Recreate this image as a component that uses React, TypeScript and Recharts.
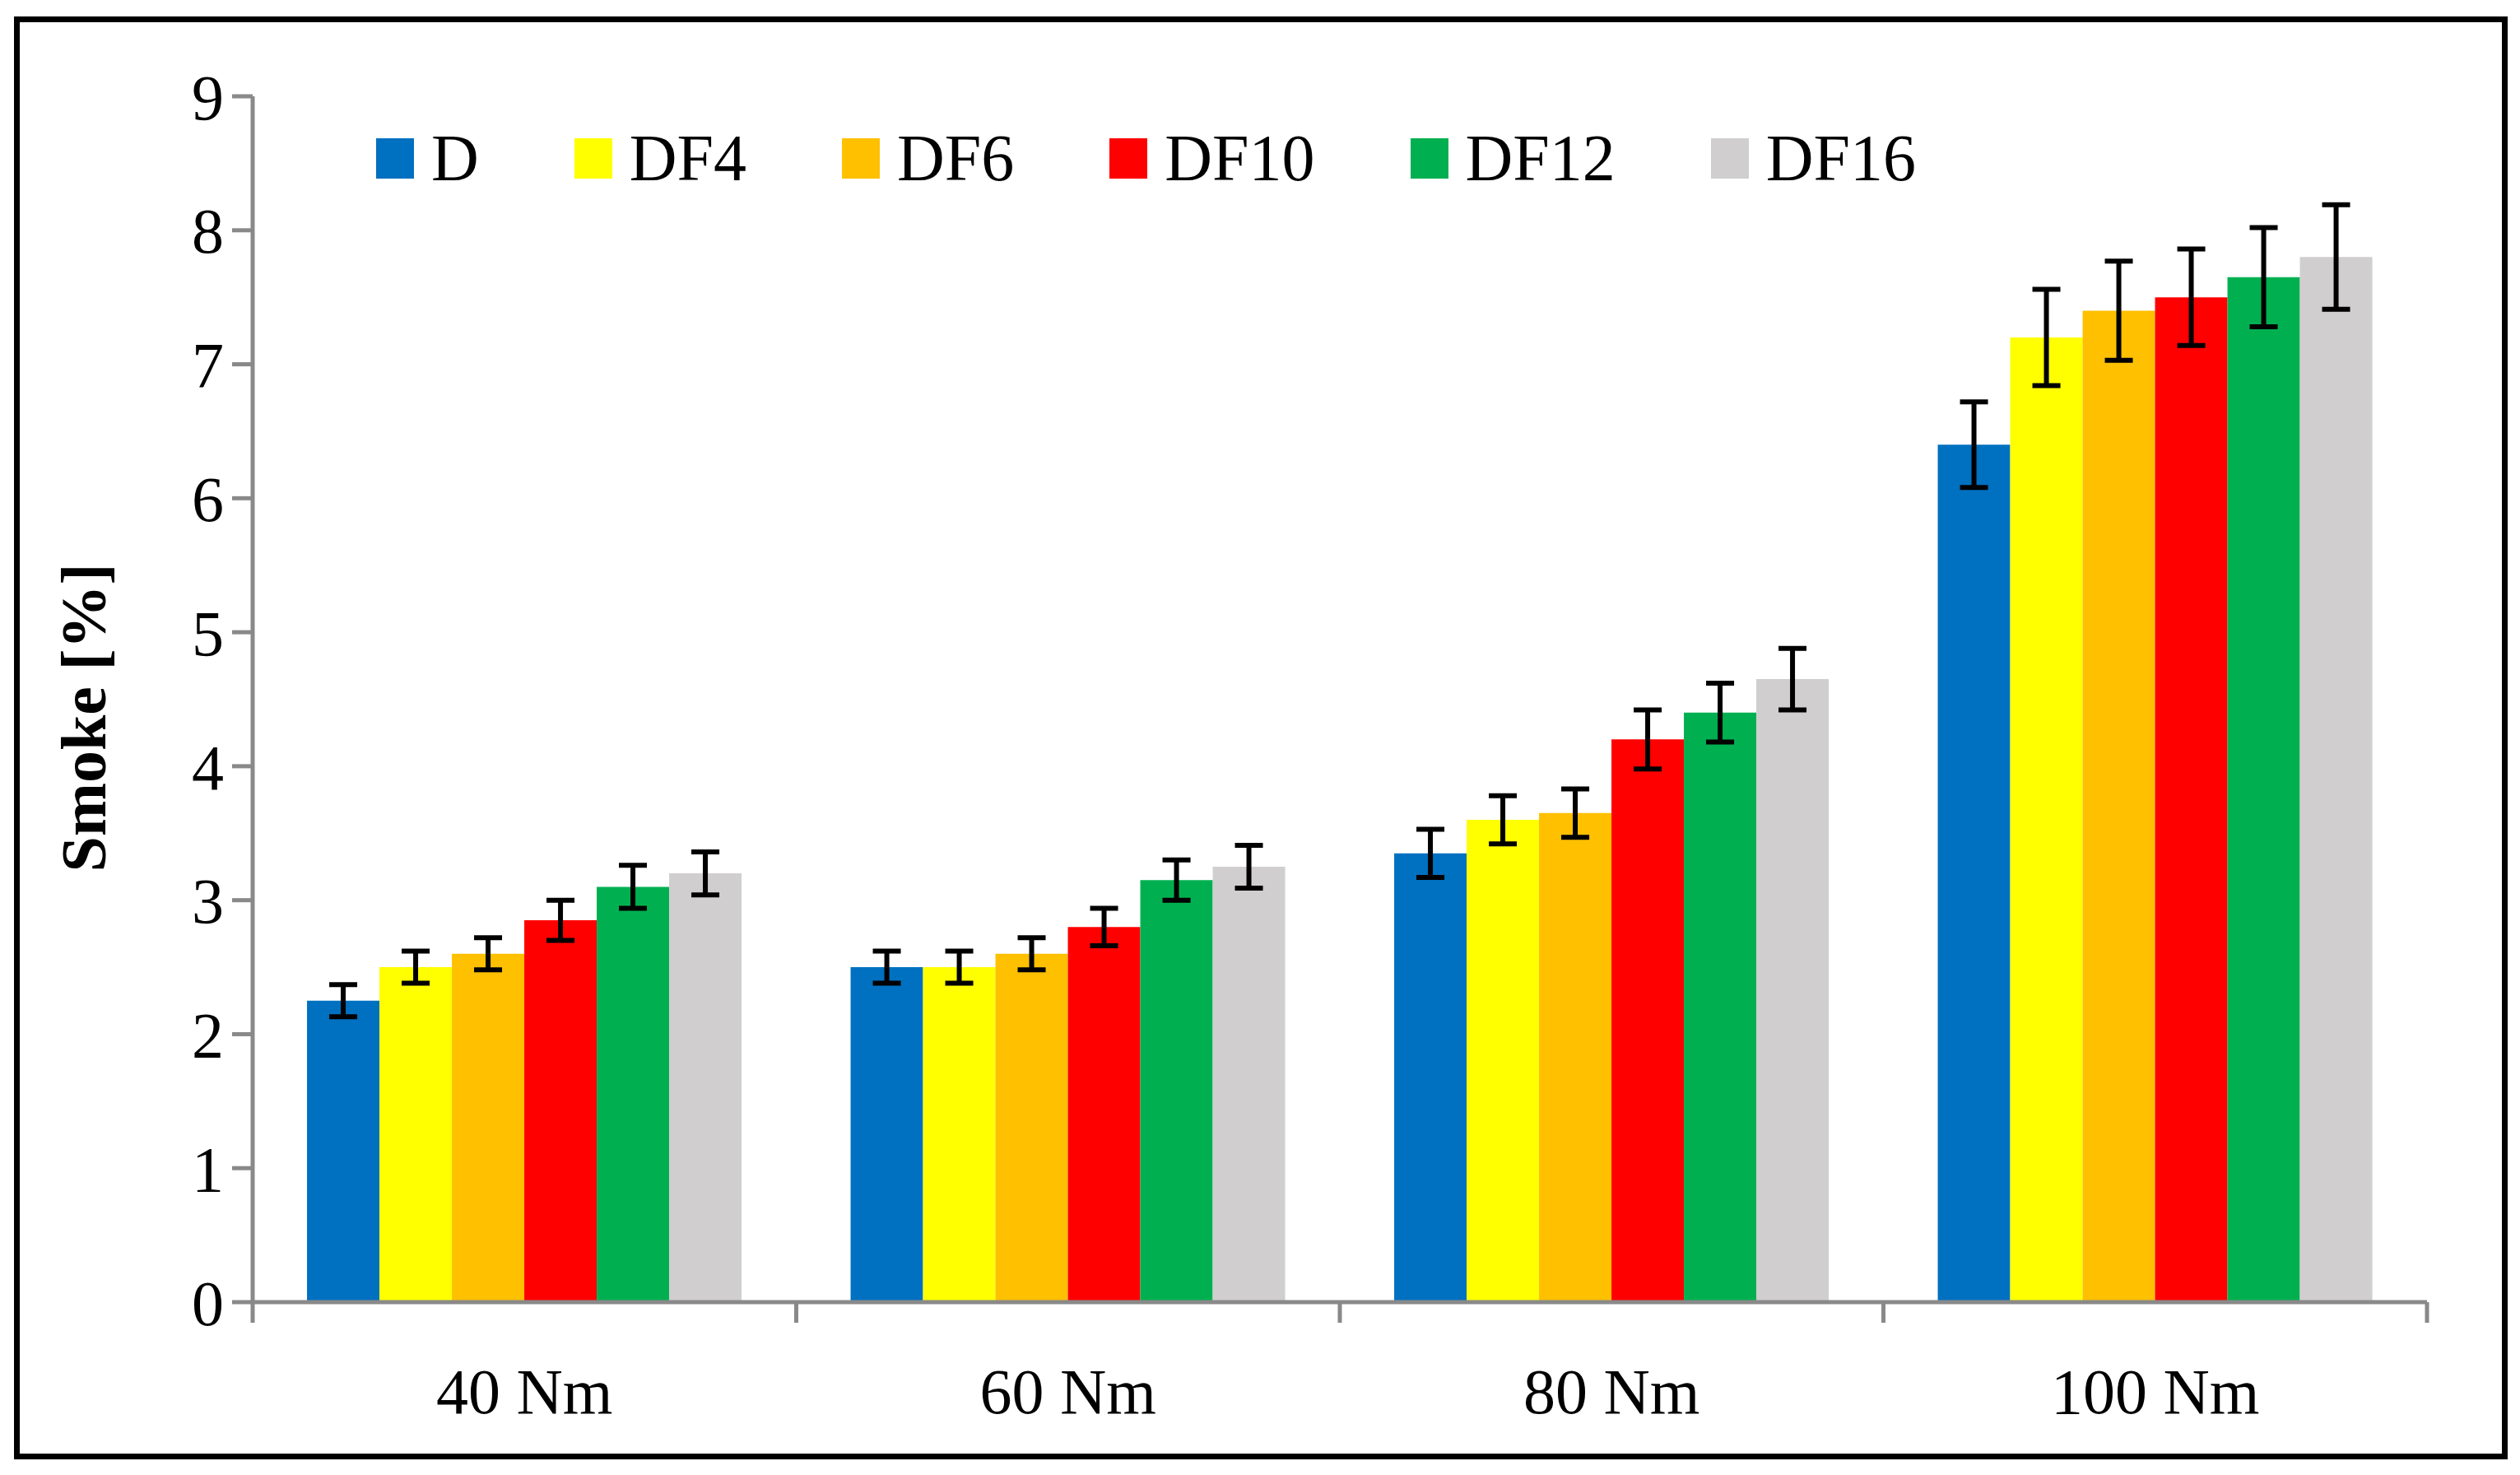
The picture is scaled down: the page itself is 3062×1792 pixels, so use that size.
import React from 'react';
import { BarChart, Bar, XAxis, YAxis, Legend, ErrorBar } from 'recharts';

// torque levels on the x axis
const categories = ['40 Nm', '60 Nm', '80 Nm', '100 Nm'];
const yTicks = [0, 1, 2, 3, 4, 5, 6, 7, 8, 9];

// smoke opacity [%] per fuel blend
const D = [2.25, 2.5, 3.35, 6.4];
const DF4 = [2.5, 2.5, 3.6, 7.2];
const DF6 = [2.6, 2.6, 3.65, 7.4];
const DF10 = [2.85, 2.8, 4.2, 7.5];
const DF12 = [3.1, 3.15, 4.4, 7.65];
const DF16 = [3.2, 3.25, 4.65, 7.8];

// error bar half-heights
const D_err = [0.12, 0.12, 0.18, 0.32];
const DF4_err = [0.12, 0.12, 0.18, 0.36];
const DF6_err = [0.12, 0.12, 0.18, 0.37];
const DF10_err = [0.15, 0.14, 0.22, 0.36];
const DF12_err = [0.16, 0.15, 0.22, 0.37];
const DF16_err = [0.16, 0.16, 0.23, 0.39];

const series = [
  { key: 'D', values: D, errors: D_err, color: '#0070C0' },
  { key: 'DF4', values: DF4, errors: DF4_err, color: '#FFFF00' },
  { key: 'DF6', values: DF6, errors: DF6_err, color: '#FFC000' },
  { key: 'DF10', values: DF10, errors: DF10_err, color: '#FF0000' },
  { key: 'DF12', values: DF12, errors: DF12_err, color: '#00B050' },
  { key: 'DF16', values: DF16, errors: DF16_err, color: '#D0CECE' },
];

const data = categories.map((name, i) => {
  const row: Record<string, string | number> = { name };
  series.forEach((s) => {
    row[s.key] = s.values[i];
    row[s.key + '_err'] = s.errors[i];
  });
  return row;
});

const W = 3062;
const H = 1792;
const FONT = '"Liberation Serif", "Times New Roman", serif';
const AXIS = '#898989';
const PLOT_LEFT = 307;
const PLOT_RIGHT = 2949;
const BAND_HALF = (PLOT_RIGHT - PLOT_LEFT) / categories.length / 2;

const XTick = (props: any) => {
  const { x, y, payload, index } = props;
  const half = payload && payload.offset ? payload.offset : BAND_HALF;
  return (
    <g>
      <line x1={x - half} y1={y} x2={x - half} y2={y + 25} stroke={AXIS} strokeWidth={5} />
      {index === categories.length - 1 && (
        <line x1={x + half} y1={y} x2={x + half} y2={y + 25} stroke={AXIS} strokeWidth={5} />
      )}
      <text x={x} y={y + 135} textAnchor="middle" fontFamily={FONT} fontSize={78} fill="#000">
        {payload.value}
      </text>
    </g>
  );
};

const YLabel = () => (
  <text
    x={0}
    y={0}
    transform="translate(128 872) rotate(-90)"
    textAnchor="middle"
    fontFamily={FONT}
    fontSize={78}
    fontWeight="bold"
    fill="#000"
  >
    Smoke [%]
  </text>
);

// keep legend entries in series order
const renderLegend = (props: any) => {
  const colorOf: Record<string, string> = {};
  (props.payload || []).forEach((p: any) => {
    colorOf[p.value] = p.color;
  });
  return (
    <div style={{ display: 'flex', alignItems: 'center', fontFamily: FONT, fontSize: 80, lineHeight: 1 }}>
      {series.map((s) => (
        <div key={s.key} style={{ display: 'flex', alignItems: 'center', marginRight: 116 }}>
          <div style={{ width: 46, height: 49, background: colorOf[s.key] || s.color, marginRight: 21 }} />
          <span style={{ color: '#000' }}>{s.key}</span>
        </div>
      ))}
    </div>
  );
};

export default function App() {
  return (
    <div style={{ position: 'absolute', left: 0, top: 0, width: W, height: H, background: '#fff' }}>
      <div
        style={{
          position: 'absolute',
          left: 17,
          top: 20,
          width: 3030,
          height: 1753,
          border: '7px solid #000',
          boxSizing: 'border-box',
        }}
      />
      <div style={{ position: 'absolute', left: 0, top: 0 }}>
        <BarChart
          width={W}
          height={H}
          data={data}
          margin={{ top: 117, right: W - PLOT_RIGHT, bottom: 60, left: 0 }}
          barCategoryGap="10%"
          barGap={0}
        >
          <XAxis
            dataKey="name"
            height={150}
            axisLine={{ stroke: AXIS, strokeWidth: 5 }}
            tickLine={false}
            tickSize={0}
            tickMargin={0}
            tick={<XTick />}
            interval={0}
          />
          <YAxis
            width={PLOT_LEFT}
            domain={[0, 9]}
            ticks={yTicks}
            interval={0}
            axisLine={{ stroke: AXIS, strokeWidth: 5 }}
            tickLine={{ stroke: AXIS, strokeWidth: 5 }}
            tickSize={25}
            tickMargin={10}
            tick={{ fontFamily: FONT, fontSize: 78, fill: '#000' }}
            label={<YLabel />}
          />
          <Legend
            layout="horizontal"
            verticalAlign="middle"
            align="center"
            content={renderLegend}
            wrapperStyle={{ left: 457, top: 152, width: 'auto' }}
          />
          {series.map((s) => (
            <Bar key={s.key} dataKey={s.key} name={s.key} fill={s.color} isAnimationActive={false}>
              <ErrorBar dataKey={s.key + '_err'} width={17} strokeWidth={6} stroke="#000" />
            </Bar>
          ))}
        </BarChart>
      </div>
    </div>
  );
}
